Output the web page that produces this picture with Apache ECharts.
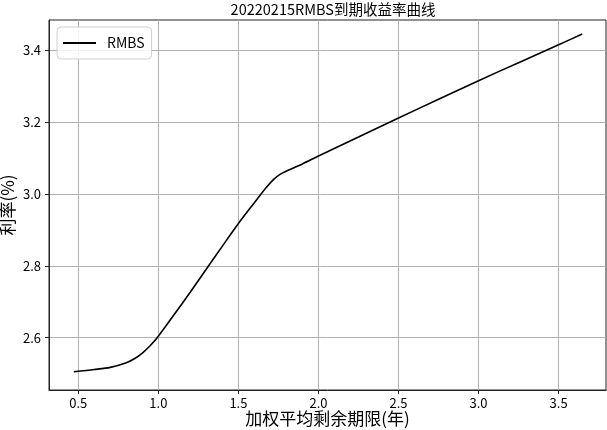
<!DOCTYPE html>
<html>
<head>
<meta charset="utf-8">
<script src="https://cdn.jsdelivr.net/npm/echarts@6/dist/echarts.min.js"></script>
<style>
html,body{margin:0;padding:0;background:#fff;}
#chart{width:607px;height:430px;}
</style>
</head>
<body>
<div id="chart"></div>
<script>
const chartTitle = '20220215RMBS到期收益率曲线';
const xAxisName = '加权平均剩余期限(年)';
const yAxisName = '利率(%)';
const seriesName = 'RMBS';
const termYears = [0.472, 0.6, 0.7, 0.8, 0.85, 0.9, 0.95, 1.0, 1.1, 1.2, 1.3, 1.4, 1.5, 1.6, 1.67, 1.72, 1.76, 1.8, 1.9, 2.0, 2.25, 2.5, 2.75, 3.0, 3.25, 3.5, 3.648];
const yieldPct  = [2.505, 2.511, 2.517, 2.530, 2.541, 2.557, 2.578, 2.604, 2.665, 2.727, 2.791, 2.855, 2.918, 2.976, 3.016, 3.041, 3.055, 3.064, 3.084, 3.106, 3.159, 3.212, 3.264, 3.316, 3.366, 3.416, 3.446];

const FONT = '"Noto Sans CJK SC", sans-serif';
const chart = echarts.init(document.getElementById('chart'), null, {renderer: 'canvas'});
const data = termYears.map((x, i) => [x, yieldPct[i]]);

chart.setOption({
  animation: false,
  backgroundColor: '#fff',
  title: {
    text: chartTitle,
    left: 328, top: -3, textAlign: 'center',
    textStyle: {fontFamily: FONT, fontSize: 14.5, fontWeight: 'normal', color: '#000'}
  },
  legend: {
    data: [seriesName],
    left: 57, top: 27,
    icon: 'rect', itemWidth: 33, itemHeight: 2,
    padding: [9, 7, 9, 6],
    backgroundColor: 'rgba(255,255,255,0.85)',
    borderColor: '#d0d0d0', borderWidth: 1, borderRadius: 4,
    textStyle: {fontFamily: FONT, fontSize: 14, color: '#000', padding: [0, 0, 0, 6]}
  },
  grid: {left: 49, right: 1, top: 20, bottom: 40, containLabel: false, outerBoundsMode: 'none', show: true, borderColor: '#222', borderWidth: 1, backgroundColor: 'transparent'},
  xAxis: {
    type: 'value', min: 0.317, max: 3.796, splitNumber: 7,
    name: xAxisName, nameLocation: 'middle', nameGap: 20, nameMoveOverlap: false,
    nameTextStyle: {fontFamily: FONT, fontSize: 17, color: '#000', verticalAlign: 'top'},
    axisLine: {show: true, lineStyle: {color: '#222', width: 1}},
    axisTick: {show: true, length: 4, lineStyle: {color: '#222'}},
    axisLabel: {showMinLabel: false, showMaxLabel: false, margin: 7, fontFamily: FONT, fontSize: 13, color: '#000', formatter: v => v.toFixed(1)},
    splitLine: {show: true, showMinLine: false, showMaxLine: false, lineStyle: {color: '#b0b0b0', width: 1}}
  },
  yAxis: {
    type: 'value', min: 2.454, max: 3.485, splitNumber: 5,
    name: yAxisName, nameLocation: 'middle', nameGap: 33, nameMoveOverlap: false,
    nameTextStyle: {fontFamily: FONT, fontSize: 17, color: '#000'},
    axisLine: {show: true, lineStyle: {color: '#222', width: 1}},
    axisTick: {show: true, length: 4, lineStyle: {color: '#222'}},
    axisLabel: {showMinLabel: false, showMaxLabel: false, margin: 8, fontFamily: FONT, fontSize: 13, color: '#000', formatter: v => v.toFixed(1)},
    splitLine: {show: true, showMinLine: false, showMaxLine: false, lineStyle: {color: '#b0b0b0', width: 1}}
  },
  series: [{
    name: seriesName, type: 'line', data: data,
    showSymbol: false, smooth: 0.3,
    lineStyle: {color: '#000', width: 1.6},
    itemStyle: {color: '#000'}
  }]
});
</script>
</body>
</html>
